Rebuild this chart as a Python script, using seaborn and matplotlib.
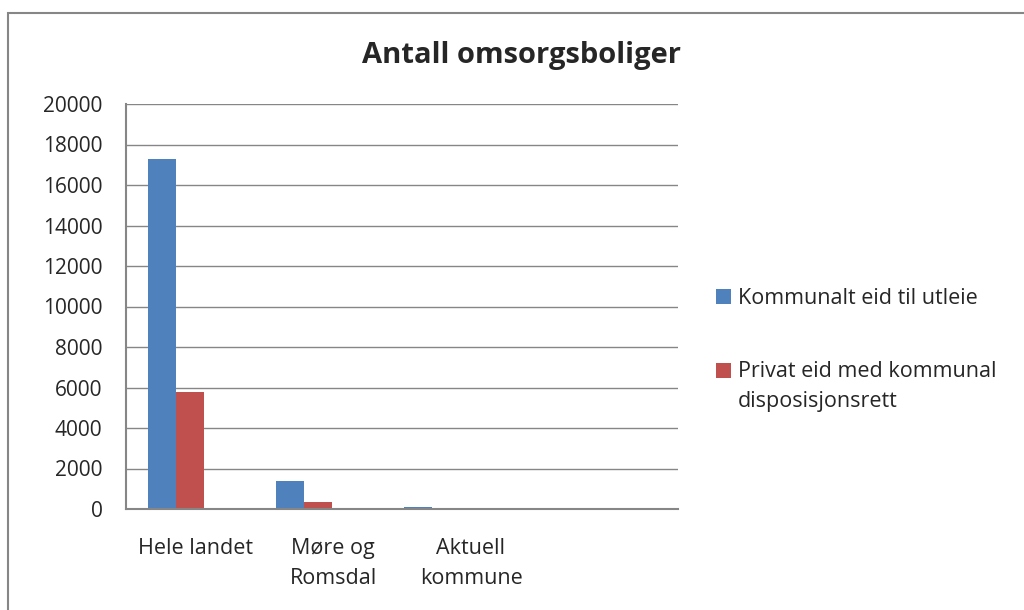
import pandas as pd
import matplotlib.pyplot as plt
import seaborn as sns
from matplotlib.patches import Rectangle
from matplotlib.legend_handler import HandlerPatch

# Data
kategorier = ['Hele landet', 'Møre og\nRomsdal', 'Aktuell\nkommune', '']
serier = ['Kommunalt eid til utleie', 'Privat eid med kommunal\ndisposisjonsrett']
kommunalt = [17300, 1400, 120]
privat = [5800, 360, 15]
farger = ['#4F81BD', '#C0504D']

df = pd.DataFrame({
    'kategori': kategorier[:3] * 2,
    'serie': [serier[0]] * 3 + [serier[1]] * 3,
    'antall': kommunalt + privat,
})

sns.set_style('white')
plt.rcParams['font.family'] = ['Open Sans', 'DejaVu Sans']

fig = plt.figure(figsize=(10.24, 6.10), dpi=100)
# plottområdet i piksler: x 126-678, y 104-509
ax = fig.add_axes([126 / 1024, 1 - 509 / 610, 552 / 1024, 405 / 610])

sns.barplot(data=df, x='kategori', y='antall', hue='serie', order=kategorier,
            hue_order=serier, palette=farger, width=0.445, saturation=1,
            errorbar=None, linewidth=0, ax=ax)

# Excel-oppsettet: stolpegruppene står litt til venstre for kategorimidten
steg = 128.0          # piksler mellom stolpegruppene
kat_bredde = 552 / 4  # piksler per kategori (etikettene)
venstre = -(176 - 126) / steg
ax.set_xlim(venstre, venstre + 552 / steg)
ax.set_xticks([venstre + (i + 0.5) * kat_bredde / steg for i in range(3)])
ax.set_xticklabels(kategorier[:3], linespacing=1.55)

# akser og rutenett
ax.set_ylim(0, 20000)
ax.set_yticks(range(0, 20001, 2000))
ax.yaxis.grid(True, color='#868686', linewidth=1)
ax.set_axisbelow(True)
for side in ['top', 'right']:
    ax.spines[side].set_visible(False)
for side in ['left', 'bottom']:
    ax.spines[side].set_color('#868686')
    ax.spines[side].set_linewidth(1.5)
ax.tick_params(axis='y', length=0, labelsize=15, pad=17)
ax.tick_params(axis='x', length=0, labelsize=15.5, pad=21)
ax.set_xlabel('')
ax.set_ylabel('')

# tittel
fig.text(522 / 1024, 1 - 55 / 610, 'Antall omsorgsboliger', ha='center', va='center',
         fontsize=21, fontweight='bold')


# forklaringsruten skal stå ved første tekstlinje, som i Excel
def rute_oeverst(legend, orig_handle, xdescent, ydescent, width, height, fontsize):
    linjer = orig_handle.get_label().count('\n')
    return Rectangle((-xdescent, -ydescent + linjer * 11.5), width, height)


handles, labels = ax.get_legend_handles_labels()
ax.get_legend().remove()
leg = fig.legend(handles, labels, loc='upper left', bbox_to_anchor=(716 / 1024, 1 - 288 / 610),
                 frameon=False, fontsize=15.5, handlelength=0.7, handleheight=0.7,
                 handletextpad=0.33, labelspacing=2.4, borderaxespad=0, borderpad=0,
                 handler_map={h: HandlerPatch(patch_func=rute_oeverst) for h in handles})
for t in leg.get_texts():
    t.set_linespacing(1.6)

# ytre ramme
fig.patches.append(Rectangle((8 / 1024, -0.05), 1.1, 1 - 13 / 610 + 0.05,
                             transform=fig.transFigure, fill=False,
                             edgecolor='#868686', linewidth=1.5))

fig.savefig('out.png', dpi=100)
